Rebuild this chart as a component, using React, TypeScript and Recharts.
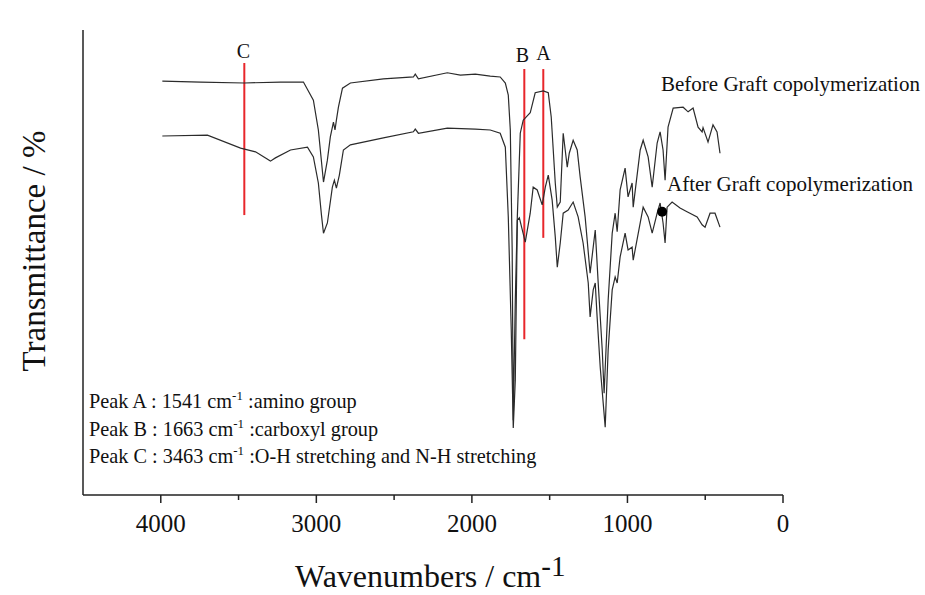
import { LineChart, Line, XAxis, YAxis, ReferenceLine, ReferenceDot, Customized } from "recharts";

// wavenumber (cm-1) / transmittance (%)
const beforeWave = [3990, 3744, 3463, 3231, 3083, 3019, 2987, 2954, 2929, 2910, 2890, 2880, 2871, 2858, 2832, 2781, 2569, 2376, 2364, 2344, 2158, 2074, 1978, 1882, 1818, 1785, 1766, 1753, 1741, 1734, 1721, 1708, 1689, 1670, 1625, 1593, 1541, 1509, 1490, 1464, 1451, 1432, 1413, 1400, 1387, 1374, 1349, 1323, 1304, 1272, 1240, 1207, 1188, 1162, 1150, 1124, 1098, 1079, 1066, 1047, 1015, 996, 970, 963, 918, 899, 867, 841, 809, 790, 771, 758, 739, 706, 642, 610, 578, 546, 520, 514, 482, 450, 424, 405];
const beforeT = [89.0, 88.8, 88.6, 88.8, 88.8, 84.9, 78.5, 67.3, 72.0, 77.0, 80.2, 78.5, 80.6, 83.4, 87.5, 88.6, 89.5, 89.9, 90.5, 89.5, 90.8, 90.3, 90.5, 90.1, 89.9, 88.6, 86.0, 78.5, 52.7, 16.1, 41.9, 59.8, 77.8, 80.6, 82.2, 86.5, 86.9, 86.5, 81.3, 67.1, 61.9, 63.0, 77.8, 74.2, 70.5, 73.5, 76.3, 74.2, 68.4, 59.8, 47.7, 57.0, 45.6, 31.2, 21.9, 41.9, 56.3, 60.6, 56.6, 65.6, 70.3, 64.1, 67.1, 61.9, 74.2, 76.3, 72.7, 66.2, 75.7, 78.1, 74.2, 67.7, 79.1, 83.2, 83.4, 82.4, 83.2, 79.1, 78.1, 79.0, 75.9, 79.6, 78.1, 73.5];

const afterWave = [3990, 3700, 3487, 3391, 3295, 3263, 3166, 3057, 3019, 2987, 2967, 2954, 2929, 2897, 2884, 2871, 2852, 2826, 2781, 2569, 2376, 2364, 2344, 2158, 1978, 1882, 1818, 1785, 1766, 1747, 1734, 1721, 1708, 1695, 1676, 1657, 1625, 1606, 1580, 1548, 1528, 1509, 1484, 1464, 1451, 1432, 1413, 1381, 1349, 1317, 1285, 1252, 1240, 1220, 1207, 1195, 1175, 1143, 1124, 1098, 1079, 1066, 1047, 1015, 996, 970, 963, 918, 899, 867, 841, 809, 790, 771, 758, 745, 713, 662, 617, 552, 520, 501, 469, 437, 405];
const afterT = [77.2, 77.4, 74.6, 73.8, 71.8, 72.5, 74.2, 74.8, 72.7, 67.1, 60.2, 56.3, 58.5, 66.2, 67.7, 66.0, 68.8, 74.2, 75.3, 76.8, 78.1, 78.7, 77.8, 78.9, 78.7, 78.5, 77.8, 74.8, 59.8, 35.5, 14.4, 24.7, 59.1, 59.6, 57.0, 54.4, 60.6, 66.2, 65.6, 62.4, 66.2, 68.8, 63.4, 55.5, 49.0, 54.2, 60.6, 61.3, 63.0, 59.8, 54.2, 45.6, 38.3, 44.1, 45.6, 38.3, 27.5, 14.6, 31.2, 44.1, 46.9, 45.6, 51.2, 56.3, 52.7, 53.3, 50.5, 58.5, 61.9, 59.8, 56.3, 60.6, 62.8, 58.5, 54.2, 61.9, 63.0, 61.7, 60.9, 59.8, 58.1, 57.6, 60.6, 60.6, 57.6];

const peakNames = ["A", "B", "C"];
const peakWaves = [1541, 1663, 3463];
const peakTop = [91.6, 91.6, 92.9];
const peakBottom = [55.3, 33.5, 60.2];
const peakNotes = ["amino group", "carboxyl group", "O-H stretching and N-H stretching"];

const xTicks = [4500, 4000, 3500, 3000, 2500, 2000, 1500, 1000, 500, 0];
const markerPoint = { w: 777, t: 60.9 };

const beforeData = beforeWave.map((w, i) => ({ w, t: beforeT[i] }));
const afterData = afterWave.map((w, i) => ({ w, t: afterT[i] }));

const FONT = "'Liberation Serif', 'Times New Roman', serif";
const INK = "#222";
const RED = "#e8262b";

const XTick = (props: any) => {
  const { x, y, payload } = props;
  const major = payload.value % 1000 === 0;
  if (payload.value === 4500) return null;
  return (
    <g>
      <line x1={x} y1={y} x2={x} y2={y + (major ? 8 : 5)} stroke={INK} strokeWidth={1.5} />
      {major && (
        <text x={x} y={y + 37} textAnchor="middle" fontSize={25} fontFamily={FONT} fill="#111">
          {payload.value}
        </text>
      )}
    </g>
  );
};

const Annotations = () => (
  <g fontFamily={FONT} fill="#111">
    <text x={243.5} y={58} fontSize={20} textAnchor="middle">C</text>
    <text x={522.5} y={62} fontSize={20} textAnchor="middle">B</text>
    <text x={543.5} y={60} fontSize={20} textAnchor="middle">A</text>
    <text x={661} y={91} fontSize={21}>Before Graft copolymerization</text>
    <text x={667} y={191} fontSize={21}>After Graft copolymerization</text>
    {peakNames.map((p, i) => (
      <text key={p} x={89} y={408 + i * 27.5} fontSize={20.3}>
        {`Peak ${p} : ${peakWaves[i]} cm`}
        <tspan fontSize={13} dy={-8}>-1</tspan>
        <tspan dy={8}>{` :${peakNotes[i]}`}</tspan>
      </text>
    ))}
    <text x={295} y={587} fontSize={32}>
      Wavenumbers / cm
      <tspan fontSize={29} dy={-11}>-1</tspan>
    </text>
    <text x={45} y={251} fontSize={33} textAnchor="middle" transform="rotate(-90 45 251)">
      Transmittance / %
    </text>
  </g>
);

export default function App() {
  return (
    <div style={{ position: "absolute", left: 0, top: 0, background: "#fff" }}>
      <LineChart width={925} height={595} margin={{ top: 30, right: 142, bottom: 0, left: 82 }}>
        <XAxis
          type="number"
          dataKey="w"
          domain={[0, 4500]}
          reversed
          ticks={xTicks}
          interval={0}
          tickSize={0}
          tickMargin={0}
          tickLine={false}
          tick={<XTick />}
          height={100}
          axisLine={{ stroke: INK, strokeWidth: 1.5 }}
          allowDataOverflow
        />
        <YAxis
          type="number"
          dataKey="t"
          domain={[0, 100]}
          width={1}
          tick={false}
          tickLine={false}
          axisLine={{ stroke: INK, strokeWidth: 1.5 }}
        />
        {peakNames.map((p, i) => (
          <ReferenceLine
            key={p}
            segment={[
              { x: peakWaves[i], y: peakTop[i] },
              { x: peakWaves[i], y: peakBottom[i] },
            ]}
            stroke={RED}
            strokeWidth={2}
          />
        ))}
        <Line data={beforeData} dataKey="t" type="linear" stroke="#2b2b2b" strokeWidth={1.2} dot={false} isAnimationActive={false} />
        <Line data={afterData} dataKey="t" type="linear" stroke="#2b2b2b" strokeWidth={1.2} dot={false} isAnimationActive={false} />
        <ReferenceDot x={markerPoint.w} y={markerPoint.t} r={5} fill="#000" stroke="none" />
        <Customized component={Annotations} />
      </LineChart>
    </div>
  );
}
